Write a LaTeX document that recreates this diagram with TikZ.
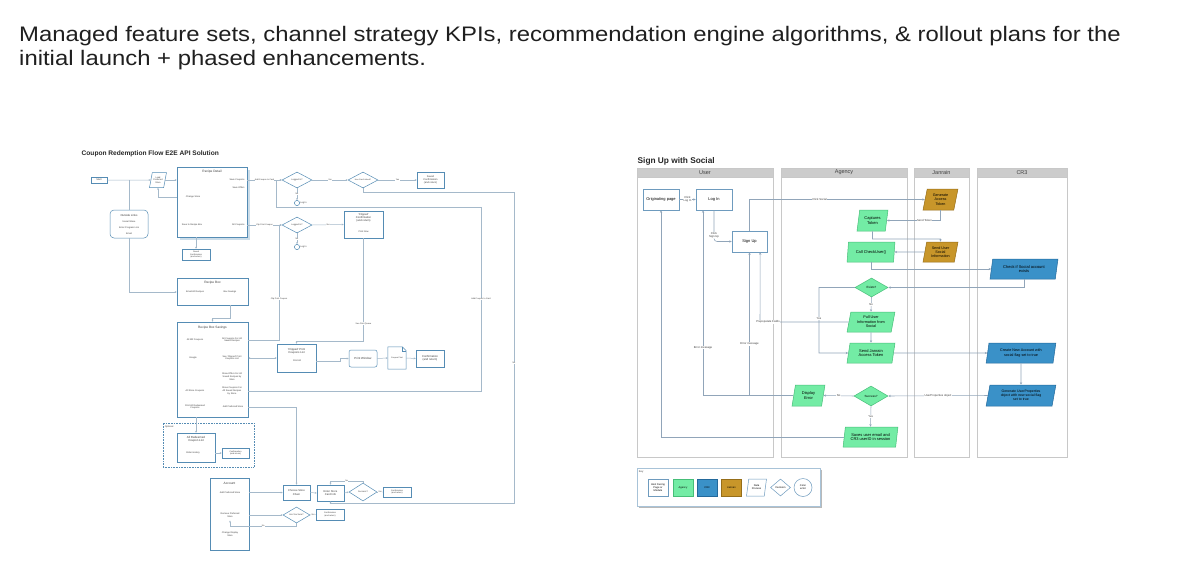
\documentclass[tikz,border=0pt]{standalone}
\usepackage{fontspec}
\setmainfont{Liberation Sans}
\usetikzlibrary{shapes.geometric,arrows.meta,calc}
\definecolor{lblue}{RGB}{85,140,180}
\definecolor{lline}{RGB}{165,185,202}
\definecolor{ltext}{RGB}{60,60,60}
\definecolor{mgreen}{RGB}{115,236,165}
\definecolor{mgreenD}{RGB}{70,190,120}
\definecolor{cblue}{RGB}{58,145,200}
\definecolor{cblueD}{RGB}{35,105,155}
\definecolor{gold}{RGB}{200,150,42}
\definecolor{goldD}{RGB}{150,110,25}
\definecolor{lanehd}{RGB}{204,204,204}
\definecolor{lanebd}{RGB}{200,200,200}
\definecolor{rline}{RGB}{145,165,185}
\definecolor{rbox}{RGB}{110,155,190}
\newcommand\fsz[2]{\fontsize{#1}{#2}\selectfont}
\tikzset{
  wh/.style 2 args={minimum width=#1pt, minimum height=#2pt},
  lbox/.style={draw=lblue, fill=white, line width=0.5pt, inner sep=0pt, align=center, text=ltext, font=\fsz{2.5}{3}},
  ltxt/.style={inner sep=0.2pt, align=center, text=ltext, font=\fsz{2.3}{2.75}},
  lttl/.style={inner sep=0.2pt, align=center, text=ltext, font=\fsz{3.2}{3.8}},
  ldia/.style={diamond, aspect=2, draw=lblue, fill=white, line width=0.5pt, inner sep=0pt, align=center, text=ltext, font=\fsz{2.2}{2.6}},
  lpar/.style={trapezium, trapezium left angle=72, trapezium right angle=108, trapezium stretches=true, draw=lblue, fill=white, line width=0.5pt, inner sep=0.3pt, align=center, text=ltext, font=\fsz{2.2}{2.6}},
  lcon/.style={draw=lline, line width=0.5pt, -{Stealth[length=2pt,width=1.8pt]}},
  lcontwo/.style={draw=lline, line width=0.5pt, {Stealth[length=2pt,width=1.8pt]}-{Stealth[length=2pt,width=1.8pt]}},
  lpl/.style={draw=lline, line width=0.5pt},
  llab/.style={fill=white, inner sep=0.4pt, align=center, text=ltext, font=\fsz{2.1}{2.5}},
  rnode/.style={line width=0.5pt, inner sep=0.5pt, align=center, text=black, font=\fsz{4}{4.8}},
  rwhite/.style={rnode, draw=rbox, fill=white},
  rpar/.style={rnode, trapezium, trapezium left angle=78, trapezium right angle=102, trapezium stretches=true},
  gpar/.style={rpar, draw=mgreenD, fill=mgreen},
  bpar/.style={rpar, draw=cblueD, fill=cblue},
  ypar/.style={rpar, draw=goldD, fill=gold},
  gdia/.style={rnode, diamond, aspect=1.7, draw=mgreenD, fill=mgreen, inner sep=0pt},
  rcon/.style={draw=rline, line width=0.55pt, -{Stealth[length=2.5pt,width=2.2pt]}},
  rlab/.style={fill=white, inner sep=0.5pt, align=center, text=ltext, font=\fsz{2.8}{3.3}},
  lane/.style={draw=lanebd, line width=0.8pt},
  lanehead/.style={draw=lanebd, fill=lanehd, line width=0.6pt, inner sep=0pt, text=black!75, font=\fsz{5.5}{6.5}},
  keyitem/.style={rnode, font=\fsz{2.6}{3.1}, wh={20}{17}, inner sep=0.2pt},
  pagetitle/.style={anchor=base west, inner sep=0, font=\fsz{21}{24}, text=black!88},
}
\begin{document}
\begin{tikzpicture}[x=1pt,y=-1pt]
\useasboundingbox (0,0) rectangle (1200,571);
\fill[white] (0,0) rectangle (1200,571);

% ---------- page title ----------
\node[pagetitle] (t1) at (19,41) {\scalebox{1.137}[1]{Managed feature sets, channel strategy KPIs, recommendation engine algorithms, \& rollout plans for the}};
\node[pagetitle] (t2) at (19,65) {\scalebox{1.137}[1]{initial launch + phased enhancements.}};

% ================= LEFT DIAGRAM =================
\node[anchor=base west, inner sep=0, font=\bfseries\fsz{6.6}{8}, text=black!85] (lt) at (81.5,155.5) {Coupon Redemption Flow E2E API Solution};

\node[lbox, wh={16}{6}] (start) at (99,180) {Start};
\node[lpar, wh={17}{15}] (loadps) at (158,180) {Load\\Preferred\\Store};

\fill[lblue!30] (180,170) rectangle (250,240);
\node[lbox, wh={70}{70}] (rd) at (212,202) {};
\node[lttl] (rdT) at (212,171.5) {Recipe Detail};
\node[ltxt, anchor=east] (rdSC) at (245,180) {Save Coupons};
\node[ltxt, anchor=east] (rdSO) at (245,188) {Save Offers};
\node[ltxt] (rdCS) at (193,197) {Change Store};
\node[ltxt] (rdSR) at (192,225) {Save to Recipe Box};
\node[ltxt, anchor=east] (rdAC) at (245,225) {All Coupons};

\node[lbox, rounded corners=4pt, wh={38}{28}] (ol) at (129,224) {};
\node[ltxt, font=\fsz{2.8}{3.3}] (olT) at (129,215) {Outside Links};
\node[ltxt] (olS) at (129,221.5) {Social Share};
\node[ltxt] (olE) at (129,227.5) {Enter Program Link};
\node[ltxt] (olM) at (129,233.5) {Email};

\node[lbox, wh={28}{11}, font=\fsz{2.1}{2.5}] (sc1) at (196,254.5) {Saved\\Confirmation\\(and return)};

\node[ldia, wh={30}{16}] (lg1) at (297,180) {Logged In?};
\node[draw=lblue, circle, line width=0.5pt, minimum size=5.2pt, inner sep=0] (c1) at (297,203) {};
\node[ltxt, anchor=west] (c1L) at (c1.east) {Log In};
\node[ldia, wh={30}{16}, font=\fsz{2.0}{2.4}] (cl) at (363,180) {Has Card Linked?};
\node[lbox, wh={27}{16}, font=\fsz{2.5}{3}] (sc2) at (430.5,180) {Saved\\Confirmation\\(and return)};

\node[ldia, wh={30}{16}] (lg2) at (297,225) {Logged In?};
\node[draw=lblue, circle, line width=0.5pt, minimum size=5.2pt, inner sep=0] (c2) at (297,247) {};
\node[ltxt, anchor=west] (c2L) at (c2.east) {Log In};

\node[lbox, wh={39}{27}] (cc) at (363.5,224.5) {};
\node[ltxt, font=\fsz{2.7}{3.2}] (ccT) at (363.5,218) {‘Clipped’\\Confirmation\\(and return)};
\node[ltxt] (ccP) at (363.5,232) {Print Now};

\node[lbox, wh={71}{27}] (rb) at (212.5,291.5) {};
\node[lttl] (rbT) at (212.5,283) {Recipe Box};
\node[ltxt] (rbE) at (195,292) {Email All Recipes};
\node[ltxt] (rbB) at (230,292) {Box Savings};

\node[lbox, wh={71}{95}] (rbs) at (212.5,369.5) {};
\node[lttl] (rbsT) at (212.5,328) {Recipe Box Savings};
\node[ltxt] (rbsL1) at (195,340) {All Mfr Coupons};
\node[ltxt] (rbsL2) at (193,358) {Google};
\node[ltxt] (rbsL3) at (195,391) {All Store Coupons};
\node[ltxt] (rbsL4) at (195,407) {Print All Redeemed\\Coupons};
\node[ltxt] (rbsAC) at (232,340) {All Coupons For All\\Saved Recipes};
\node[ltxt] (rbsSee) at (232,358) {See ‘Clipped’ Print\\Coupons List};
\node[ltxt] (rbsSO) at (232,376.5) {Show Offers For All\\Saved Recipes by\\Store};
\node[ltxt] (rbsSC) at (232,391) {Show Coupons For\\All Saved Recipes\\by Store};
\node[ltxt] (rbsAP) at (233,407) {Add Preferred Store};

\node[lbox, wh={39}{28}] (cp) at (296.5,358) {};
\node[ltxt, font=\fsz{2.8}{3.3}] (cpT) at (296.5,351) {‘Clipped’ Print\\Coupons List};
\node[ltxt] (cpP) at (297,361) {Print All};

\node[lbox, rounded corners=2pt, wh={28}{17}, font=\fsz{2.9}{3.4}] (pw) at (363,358.5) {Print Window};
\node[wh={18}{22}, inner sep=0] (doc) at (397,358) {};
\draw[lblue, fill=white, line width=0.5pt] (doc.south west) -- (doc.north west) -- ($(doc.north east)+(-4,0)$) -- ($(doc.north east)+(0,4)$) -- (doc.south east) -- cycle;
\draw[lblue, line width=0.4pt] ($(doc.north east)+(-4,0)$) -- ($(doc.north east)+(-4,4)$) -- ($(doc.north east)+(0,4)$);
\node[lbox, wh={28}{17}, font=\fsz{2.8}{3.3}] (c3) at (430,358.5) {Confirmation\\(and return)};

\node[draw=lblue, densely dotted, line width=0.6pt, wh={91}{44}] (opt) at (208.5,445) {};
\node[ltxt, anchor=west] (optL) at (164.5,427) {Optional};
\node[lbox, wh={38}{29}] (rr) at (196,447.5) {};
\node[ltxt, font=\fsz{2.9}{3.4}] (rrT) at (196,439.5) {All Redeemed\\Coupon List};
\node[ltxt] (rrO) at (193,453) {Order History};
\node[lbox, wh={27}{10}, font=\fsz{2.1}{2.5}] (c4) at (235.5,453) {Confirmation\\(and return)};

\node[lbox, wh={39}{72}] (acc) at (229.5,514) {};
\node[lttl] (accT) at (229.5,483) {Account};
\node[ltxt] (accAP) at (230,492.5) {Add Preferred Store};
\node[ltxt] (accRP) at (230,515) {Remove Preferred\\Store};
\node[ltxt] (accCD) at (230,534) {Change Display\\Store};

\node[lbox, wh={27}{15}, font=\fsz{2.7}{3.2}] (ch) at (296.5,492.5) {Choose Store\\Chain};
\node[lbox, wh={27}{16}, font=\fsz{2.7}{3.2}] (en) at (330.5,493) {Enter Store\\Card Info};
\node[ldia, wh={28}{18}] (su) at (363,492) {Success?};
\node[lbox, wh={28}{10}, font=\fsz{2.1}{2.5}] (c5) at (397,492) {Confirmation\\(and return)};
\node[ldia, wh={27}{16}] (sure) at (296.5,515) {Are You Sure?};
\node[lbox, wh={28}{11}, font=\fsz{2.1}{2.5}] (c6) at (330,514.5) {Confirmation\\(and return)};

% left connectors
\draw[lcon] (start.east) -- (loadps.west);
\draw[lpl] (ol.north) -- (129,180);
\draw[lcon] (loadps.east) -- (rd.west |- loadps.east);
\draw[lcon] (rd.west |- rdCS) -| (loadps.south);
\draw[lcon] (sc1.north |- rd.south) -- (sc1.north);
\draw[lcon] (rd.east |- rdSC) -- node[llab]{Add Coupon to Card} (lg1.west);
\draw[lcon] (lg1.south) -- node[llab]{No} (c1.north);
\draw[lcon] (lg1.east) -- node[llab]{Yes} (cl.west);
\draw[lcon] (cl.east) -- node[llab]{Yes} (sc2.west);
\draw[lcon] (cl.south) -- (363,192) -- (514,192) -- node[llab, pos=0.55]{No} (514,503) -- (330.5,503) -- (en.south);
\draw[lcon] (rbs.east |- rbsSC) -- (481,391) -- node[llab]{Add Coupon to Card} (481,207) -- (276,207) |- (lg1.west);
\draw[lcon] (rd.east |- rdAC) -- node[llab]{Clip Print Coupon} (lg2.west);
\draw[lcon] (rbs.east |- rbsAC) -- (279,340) -- node[llab, pos=0.36]{Clip Print Coupon} (279,225) -- (lg2.west);
\draw[lcon] (lg2.south) -- node[llab]{No} (c2.north);
\draw[lcon] (lg2.east) -- node[llab]{Yes} (cc.west);
\draw[lcon] (cc.south) -- node[llab, pos=0.83]{See Print Queue} (363.5,341) -| (cp.north);
\draw[lcontwo] (rbs.east |- rbsSee) -- (cp.west |- rbsSee);
\draw[lcon] (cp.east |- cpP) -- (340,361) -- (340,358.5) -- (pw.west);
\draw[lcon] (pw.east) -- (doc.west);
\draw[lcon] (doc.east) -- (c3.west);
\node[ltxt, font=\fsz{2.0}{2.4}, fill=white, inner sep=0.3pt] (docL) at (397,358) {Coupon Print};
\draw[lcon] (rbB.south |- rb.south) -- (230,318) -| (rbs.north);
\draw[lcon] (ol.south) |- (rb.west |- rbE);
\draw[lcon] (rr.north |- rbs.south) -- (rr.north);
\draw[lcon] (rr.east |- rrO) -- (c4.west);
\draw[lcon] (rbs.east |- rbsAP) -| (ch.north);
\draw[lcon] (acc.east |- accAP) -- (ch.west);
\draw[lcon] (ch.east) -- (en.west);
\draw[lcon] (en.east) -- (su.west);
\draw[lcon] (su.east) -- node[llab]{Yes} (c5.west);
\draw[lcon] (su.north) -- (363,481) -- node[llab]{No} (330.5,481) -- (en.north);
\draw[lcon] (acc.east |- accRP) -- (sure.west);
\draw[lcon] (sure.east) -- node[llab]{Yes} (c6.west);
\draw[lcon] (sure.south) -- (296.5,526) -- node[llab]{No} (230,526) -- (230,520.5);

% ================= RIGHT DIAGRAM =================
\node[anchor=base west, inner sep=0, font=\bfseries\fsz{8.3}{10}, text=black!85] (rt) at (637.5,163.5) {Sign Up with Social};

\draw[lane] (637,168) rectangle (773,457);
\draw[lane] (781,168) rectangle (907,457);
\draw[lane] (914,168) rectangle (969,457);
\draw[lane] (977,168) rectangle (1067,457);
\node[lanehead, wh={136}{9}] (hUser) at (705,172.5) {User};
\node[lanehead, wh={126}{9}] (hAg) at (844,172.5) {Agency};
\node[lanehead, wh={55}{9}] (hJan) at (941.5,172.5) {Janrain};
\node[lanehead, wh={90}{9}] (hCR) at (1022,172.5) {CR3};

\node[rwhite, wh={36}{21}] (orig) at (661,199.5) {Originating page};
\node[rwhite, wh={36}{21}] (login) at (714,199.5) {Log In};
\node[rwhite, wh={35}{21}] (signup) at (749.5,241.5) {Sign Up};
\node[ypar, wh={35}{21}, font=\fsz{3.7}{4.3}] (genaccess) at (940.5,199.5) {Generate\\Access\\Token};
\node[gpar, wh={31}{21}] (captures) at (872.5,220.5) {Captures\\Token};
\node[ypar, wh={35}{20}, font=\fsz{3.7}{4.3}] (senduser) at (940.5,252) {Send User\\Social\\Information};
\node[gpar, wh={48}{20}] (callcheck) at (871,252) {Call CheckUser()};
\node[bpar, wh={68}{20}] (checkif) at (1024,269) {Check if Social account\\exists};
\node[gdia, wh={33}{19}, font=\fsz{3}{3.5}] (exists) at (871.5,287.5) {Exists?};
\node[gpar, wh={48}{20}, font=\fsz{3.8}{4.4}] (pull) at (871,322) {Pull User\\Information from\\Social};
\node[gpar, wh={48}{20}] (sendjan) at (871,353) {Send Janrain\\Access Token};
\node[bpar, wh={70}{20}, font=\fsz{3.7}{4.4}] (createnew) at (1021,353) {Create New Account with\\social flag set to true};
\node[bpar, wh={70}{21}, font=\fsz{3.5}{4.2}] (genuser) at (1021,395.5) {Generate UserProperties\\object with new social flag\\set to true};
\node[gdia, wh={34}{20}, font=\fsz{3}{3.5}] (success) at (871,396) {Success?};
\node[gpar, wh={33}{21}] (displayerr) at (808.5,395.5) {Display\\Error};
\node[gpar, wh={55}{20}] (saves) at (870.5,437) {Saves user email and\\CR3 userID in session};

% right connectors
\draw[rcon] (orig.east) -- node[rlab]{Click\\Log In} (login.west);
\draw[rcon, rounded corners=3pt] (login.south) |- node[rlab, pos=0.4]{Click\\Sign Up} (signup.west);
\draw[rcon] (signup.north) |- node[rlab, pos=0.7]{Click Social} (genaccess.west);
\draw[rcon] (genaccess.south) |- node[rlab, pos=0.65]{Send Token} (captures.east);
\draw[rcon] (captures.south) -- (872.5,239) -| (senduser.north);
\draw[rcon] (senduser.west) -- (callcheck.east);
\draw[rcon] (callcheck.south) |- (checkif.west);
\draw[rcon] (checkif.south) |- (exists.east);
\draw[rcon] (exists.south) -- node[rlab]{No} (pull.north);
\draw[rcon] (exists.west) -- (819,287.5) -- node[rlab, pos=0.47]{Yes} (819,353) -- (sendjan.west);
\draw[rcon] (pull.west) -- node[rlab, pos=0.91]{Prepopulate Fields} (760,322) -- ($(signup.south)!0.6!(signup.south east)$);
\draw[rcon] (pull.south) -- (sendjan.north);
\draw[rcon] (sendjan.east) -- (createnew.west);
\draw[rcon] (createnew.south) -- (genuser.north);
\draw[rcon] (genuser.west) -- node[rlab]{UserProperties object} (success.east);
\draw[rcon] (success.west) -- node[rlab]{No} (displayerr.east);
\draw[rcon] (success.south) -- node[rlab]{Yes} (saves.north);
\draw[rcon] (saves.west) -| (orig.south);
\draw[rcon] (displayerr.west) -| node[rlab, pos=0.63]{Error message} ($(login.south)!0.6!(login.south west)$);
\draw[rcon] (signup.south |- displayerr.west) -- node[rlab, pos=0.36]{Error message} (signup.south);

% key
\draw[gray!55, line width=1.2pt] (821,469.5) -- (821,507.5) -- (639,507.5);
\node[draw=rbox!60, fill=white, line width=0.5pt, wh={183}{38}] (key) at (728.5,487) {};
\node[ltxt, anchor=west, font=\fsz{2.6}{3}] (keyL) at (638.5,471.5) {Key};
\node[keyitem, draw=rbox, fill=white] (k1) at (658,487.5) {Host Facing\\Page or\\Module};
\node[keyitem, draw=mgreenD, fill=mgreen] (k2) at (683,487.5) {Agency};
\node[keyitem, draw=cblueD, fill=cblue] (k3) at (707,487.5) {CR3};
\node[keyitem, draw=goldD, fill=gold] (k4) at (731.5,487.5) {Janrain};
\node[keyitem, trapezium, trapezium left angle=75, trapezium right angle=105, trapezium stretches=true, draw=rbox, fill=white] (k5) at (756.5,487.5) {Data\\Process};
\node[keyitem, diamond, aspect=1.2, draw=rbox, fill=white, inner sep=0pt] (k6) at (780.5,487.5) {Decision};
\node[keyitem, circle, minimum size=18pt, wh={18}{18}, draw=rbox, fill=white] (k7) at (803,487.5) {Conn\\ector};
\end{tikzpicture}
\end{document}
